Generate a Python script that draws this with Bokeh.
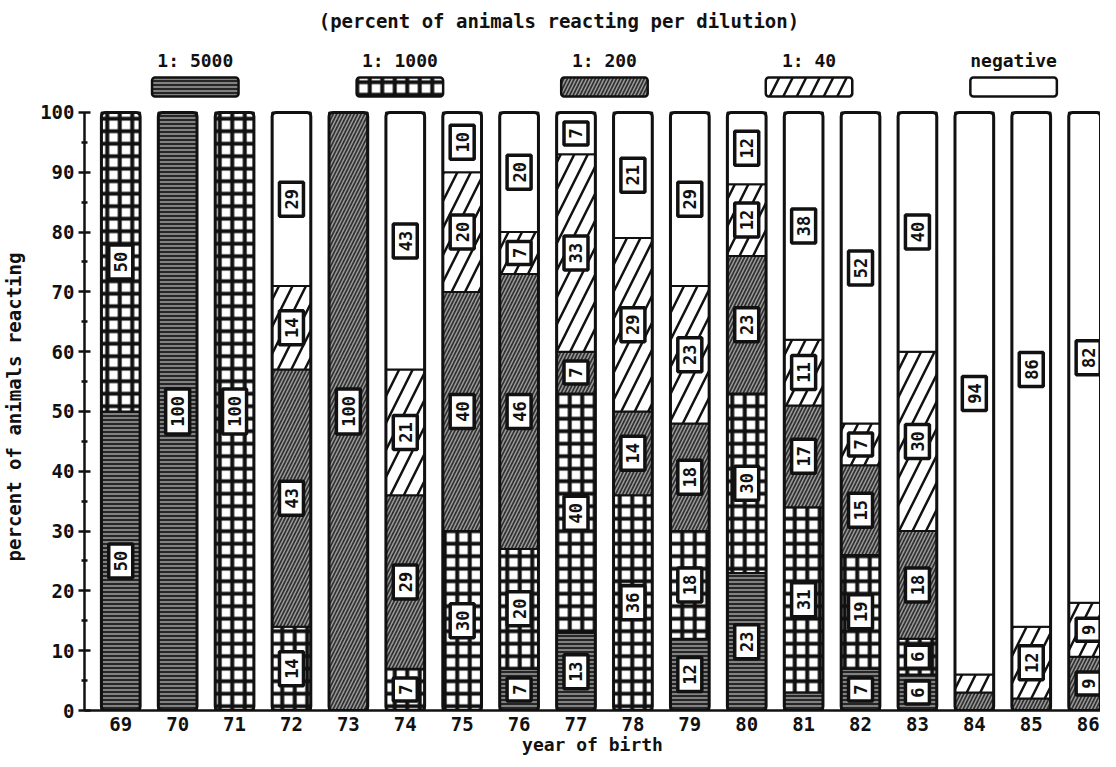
import math
from bokeh.plotting import figure
from bokeh.layouts import column
from bokeh.models import Range1d, FixedTicker, ColumnDataSource
from bokeh.core.properties import value
from bokeh.embed import file_html
from bokeh.resources import INLINE

# ---- data ----
years = [69, 70, 71, 72, 73, 74, 75, 76, 77, 78, 79, 80, 81, 82, 83, 84, 85, 86]
dil_5000 = [50, 100, 0, 0, 0, 0, 0, 7, 13, 0, 12, 23, 3, 7, 6, 0, 0, 0]
dil_1000 = [50, 0, 100, 14, 0, 7, 30, 20, 40, 36, 18, 30, 31, 19, 6, 0, 0, 0]
dil_200 = [0, 0, 0, 43, 100, 29, 40, 46, 7, 14, 18, 23, 17, 15, 18, 3, 2, 9]
dil_40 = [0, 0, 0, 14, 0, 21, 20, 7, 33, 29, 23, 12, 11, 7, 30, 3, 12, 9]
negative = [0, 0, 0, 29, 0, 43, 10, 20, 7, 21, 29, 12, 38, 52, 40, 94, 86, 82]
series_names = ["1: 5000", "1: 1000", "1: 200", "1: 40", "negative"]
y_ticks = [0, 10, 20, 30, 40, 50, 60, 70, 80, 90, 100]
title_text = "(percent of animals reacting per dilution)"
y_label = "percent of animals reacting"
x_label = "year of birth"

series = [dil_5000, dil_1000, dil_200, dil_40, negative]

# ---- styles ----
FONT = value("DejaVu Sans Mono")
INK = "#111111"
styles = [
    dict(fill_color="#262626", hatch_pattern="-", hatch_color="#dddddd", hatch_scale=4, hatch_weight=1),
    dict(fill_color="white", hatch_pattern="+", hatch_color=INK, hatch_scale=12.5, hatch_weight=4),
    dict(fill_color="#303030", hatch_pattern="/", hatch_color="#9a9a9a", hatch_scale=7, hatch_weight=1.5),
    dict(fill_color="white", hatch_pattern="/", hatch_color=INK, hatch_scale=27, hatch_weight=2.5),
    dict(fill_color="white"),
]

BW = 0.68
xr = Range1d(68.363, 86.217)

# ---- header figure: title + legend ----
TOP_H = 99
top = figure(width=1100, height=TOP_H, x_range=xr, y_range=Range1d(0, TOP_H),
             output_backend="svg", toolbar_location=None,
             x_axis_location=None, y_axis_location=None,
             min_border_left=77, min_border_right=0, min_border_top=0, min_border_bottom=0)
top.outline_line_color = None
top.xgrid.visible = False
top.ygrid.visible = False

n = len(series_names)
lx = [70.31 + 3.595 * i for i in range(n)]
for i, st in enumerate(styles):
    top.quad(left=[lx[i] - 0.76], right=[lx[i] + 0.76], bottom=[3], top=[22],
             line_color=INK, line_width=2.5, border_radius=3, **st)
top.text(x=lx, y=[39] * n, text=series_names, text_align="center", text_baseline="middle",
         text_font=FONT, text_font_style="bold", text_font_size="18px", text_color=INK)
top.text(x=[76.7], y=[79], text=[title_text], text_align="center", text_baseline="middle",
         text_font=FONT, text_font_style="bold", text_font_size="19px", text_color=INK)

# ---- main figure ----
p = figure(width=1100, height=660, x_range=xr, y_range=Range1d(0, 101.5),
           output_backend="svg", toolbar_location=None,
           min_border_left=77, min_border_right=0, min_border_top=4, min_border_bottom=49)
p.outline_line_color = None
p.xgrid.visible = False
p.ygrid.visible = False

bottoms = [0] * len(years)
label_x, label_y, label_t, label_h = [], [], [], []
for vals, st in zip(series, styles):
    tops = [b + v for b, v in zip(bottoms, vals)]
    idx = [i for i, v in enumerate(vals) if v > 0]
    src = ColumnDataSource(dict(x=[years[i] for i in idx], bottom=[bottoms[i] for i in idx],
                                top=[tops[i] for i in idx]))
    p.vbar(x="x", width=BW, bottom="bottom", top="top", source=src,
           line_color=INK, line_width=2, **st)
    for i in idx:
        if vals[i] >= 5:
            label_x.append(years[i])
            label_y.append((bottoms[i] + tops[i]) / 2)
            label_t.append(str(vals[i]))
            label_h.append(11 * len(str(vals[i])) + 12)
    bottoms = tops

p.vbar(x=years, width=BW, bottom=0, top=bottoms, fill_color=None,
       line_color=INK, line_width=3, border_radius=4)

lsrc = ColumnDataSource(dict(x=label_x, y=label_y, t=label_t, h=label_h))
p.rect(x="x", y="y", width=24, height="h", width_units="screen", height_units="screen",
       source=lsrc, fill_color="white", line_color=INK, line_width=3.5)
p.text(x="x", y="y", text="t", source=lsrc, angle=math.pi / 2, text_align="center",
       text_baseline="middle", text_font=FONT, text_font_style="bold", text_font_size="17px",
       text_color=INK)

ya = p.yaxis[0]
ya.ticker = FixedTicker(ticks=y_ticks, minor_ticks=[5 + 10 * k for k in range(10)])
ya.bounds = (0, 100)
ya.axis_line_width = 2.5
ya.axis_line_color = INK
ya.major_tick_in = 6
ya.major_tick_out = 6
ya.major_tick_line_width = 2.5
ya.major_tick_line_color = INK
ya.minor_tick_in = 3
ya.minor_tick_out = 3
ya.minor_tick_line_width = 2.5
ya.minor_tick_line_color = INK
ya.major_label_standoff = 4
ya.major_label_text_font = "DejaVu Sans Mono"
ya.major_label_text_font_style = "bold"
ya.major_label_text_font_size = "19px"
ya.major_label_text_color = INK
ya.axis_label = y_label
ya.axis_label_standoff = 12
ya.axis_label_text_font = "DejaVu Sans Mono"
ya.axis_label_text_font_style = "bold"
ya.axis_label_text_font_size = "19px"
ya.axis_label_text_color = INK

xa = p.xaxis[0]
xa.ticker = FixedTicker(ticks=years)
xa.axis_line_width = 2.5
xa.axis_line_color = INK
xa.major_tick_in = 0
xa.major_tick_out = 0
xa.minor_tick_in = 0
xa.minor_tick_out = 0
xa.major_label_standoff = 6
xa.major_label_text_font = "DejaVu Sans Mono"
xa.major_label_text_font_style = "bold"
xa.major_label_text_font_size = "19px"
xa.major_label_text_color = INK
xa.axis_label = x_label
xa.axis_label_standoff = 0
xa.axis_label_text_font = "DejaVu Sans Mono"
xa.axis_label_text_font_style = "bold"
xa.axis_label_text_font_size = "18px"
xa.axis_label_text_color = INK

layout = column(top, p, spacing=0)
open("out.html", "w").write(file_html(layout, INLINE))
